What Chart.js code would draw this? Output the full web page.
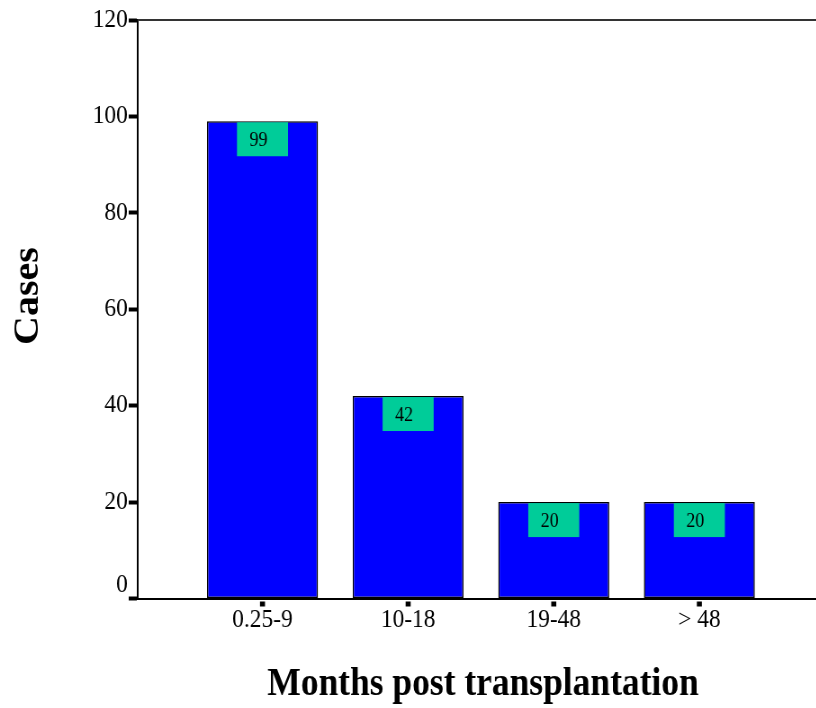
<!DOCTYPE html>
<html>
<head>
<meta charset="utf-8">
<script src="https://cdn.jsdelivr.net/npm/chart.js@4.4.1/dist/chart.umd.min.js"></script>
<style>
  html, body { margin: 0; padding: 0; background: #fff; overflow: hidden; }
  /* the figure uses a slightly condensed lettering, so the whole chart is narrowed horizontally */
  #wrap { width: 907px; height: 708px; transform: scaleX(0.9); transform-origin: 0 0; }
</style>
</head>
<body>
<div id="wrap"><canvas id="c"></canvas></div>
<script>
// Cases by time after transplantation
const categories = ['0.25-9', '10-18', '19-48', '> 48'];
const cases = [99, 42, 20, 20];
const yTicks = [0, 20, 40, 60, 80, 100, 120];

const SERIF = "'Liberation Serif', 'Times New Roman', serif";

// green value boxes sitting at the top of each bar
const valueBoxes = {
  id: 'valueBoxes',
  afterDatasetsDraw(chart) {
    const { ctx } = chart;
    const meta = chart.getDatasetMeta(0);
    ctx.save();
    meta.data.forEach((bar, i) => {
      const bw = 56.7, bh = 34;
      ctx.fillStyle = '#00CC99';
      ctx.fillRect(bar.x - bw / 2, bar.y + 1, bw, bh);
      ctx.fillStyle = '#000';
      ctx.font = `20px ${SERIF}`;
      ctx.textAlign = 'center';
      ctx.textBaseline = 'alphabetic';
      ctx.fillText(String(cases[i]), bar.x - 4.5, bar.y + 25);
    });
    ctx.restore();
  }
};

// frame top line, y tick labels, x tick markers and axis titles
const decorations = {
  id: 'decorations',
  afterDraw(chart) {
    const { ctx, chartArea: a, scales: { x, y } } = chart;
    ctx.save();
    ctx.strokeStyle = '#333';
    ctx.lineWidth = 2;
    ctx.beginPath();
    ctx.moveTo(a.left, a.top);
    ctx.lineTo(a.right, a.top);
    ctx.stroke();

    ctx.fillStyle = '#000';
    ctx.font = `26px ${SERIF}`;
    ctx.textAlign = 'right';
    ctx.textBaseline = 'middle';
    yTicks.forEach(v => {
      const lift = v === 0 ? 13 : 0;
      ctx.fillText(String(v), a.left - 11, y.getPixelForValue(v) - lift);
    });

    categories.forEach((_, i) => {
      const px = x.getPixelForValue(i);
      ctx.fillRect(px - 2.8, a.bottom + 3, 5.6, 5);
    });

    ctx.textAlign = 'center';
    ctx.textBaseline = 'alphabetic';
    ctx.font = `bold 39.4px ${SERIF}`;
    ctx.fillText('Months post transplantation', 536.7, 695);

    ctx.translate(42, 296);
    ctx.rotate(-Math.PI / 2);
    ctx.font = `bold 40px ${SERIF}`;
    ctx.fillText('Cases', 0, 0);
    ctx.restore();
  }
};

new Chart(document.getElementById('c'), {
  type: 'bar',
  data: {
    datasets: [{
      data: cases.map((v, i) => ({ x: i, y: v })),
      backgroundColor: '#0000FF',
      borderColor: '#000',
      borderWidth: 1.5,
      borderSkipped: false,
      categoryPercentage: 1,
      barPercentage: 0.762
    }]
  },
  options: {
    responsive: true,
    maintainAspectRatio: false,
    animation: false,
    layout: { padding: { top: 20, right: 0, bottom: 0, left: 0 } },
    plugins: { legend: { display: false }, tooltip: { enabled: false } },
    scales: {
      x: {
        type: 'linear',
        min: -0.857,
        max: 3.803,
        offset: false,
        afterBuildTicks: s => { s.ticks = categories.map((_, i) => ({ value: i })); },
        afterFit: s => { s.height = 109.5; },
        ticks: {
          callback: v => categories[v],
          color: '#000',
          font: { family: SERIF, size: 26 },
          padding: 6,
          maxRotation: 0,
          autoSkip: false
        },
        grid: { display: false, drawTicks: false, offset: false },
        border: { display: true, color: '#000', width: 2 }
      },
      y: {
        min: 0,
        max: 120,
        afterBuildTicks: s => { s.ticks = yTicks.map(v => ({ value: v })); },
        afterFit: s => { s.width = 153; },
        ticks: { display: false },
        grid: {
          drawOnChartArea: false,
          drawTicks: true,
          tickLength: 10,
          tickWidth: 4,
          tickColor: '#000'
        },
        border: { display: true, color: '#000', width: 2 }
      }
    }
  },
  plugins: [valueBoxes, decorations]
});
</script>
</body>
</html>
